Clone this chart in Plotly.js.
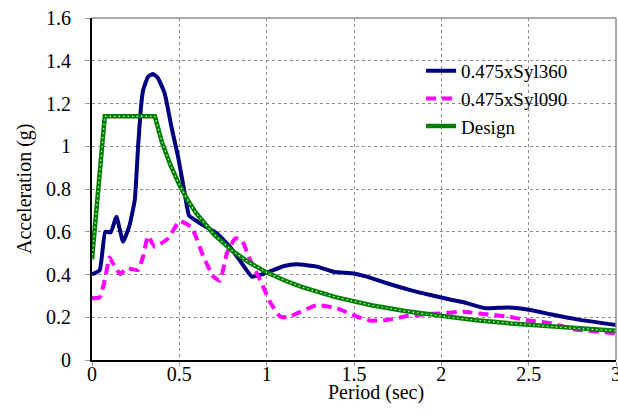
<!DOCTYPE html>
<html>
<head>
<meta charset="utf-8">
<script src="https://cdn.plot.ly/plotly-3.0.1.min.js"></script>
<style>
html,body{margin:0;padding:0;background:#fff}
#chart{width:618px;height:415px}
</style>
</head>
<body>
<div id="chart"></div>
<script>
// Series 1: 0.475xSyl360
const syl360Period = [0, 0.044, 0.076, 0.107, 0.14, 0.178, 0.215, 0.245, 0.264, 0.28, 0.292, 0.321, 0.35, 0.378, 0.416, 0.455, 0.493, 0.531, 0.556, 0.619, 0.714, 0.79, 0.858, 0.915, 0.963, 1.02, 1.1, 1.173, 1.288, 1.383, 1.497, 1.574, 1.689, 1.822, 1.937, 2.05, 2.128, 2.252, 2.377, 2.51, 2.625, 2.777, 3.0];
const syl360Accel  = [0.40, 0.42, 0.60, 0.597, 0.67, 0.553, 0.63, 0.75, 1.0, 1.18, 1.26, 1.325, 1.338, 1.318, 1.248, 1.09, 0.95, 0.78, 0.675, 0.64, 0.593, 0.53, 0.452, 0.39, 0.398, 0.415, 0.44, 0.448, 0.437, 0.413, 0.405, 0.39, 0.359, 0.327, 0.304, 0.283, 0.27, 0.242, 0.246, 0.234, 0.214, 0.19, 0.164];

// Series 2: 0.475xSyl090
const syl090Period = [0, 0.044, 0.073, 0.101, 0.13, 0.162, 0.197, 0.264, 0.292, 0.321, 0.359, 0.436, 0.502, 0.571, 0.638, 0.695, 0.733, 0.772, 0.82, 0.858, 0.905, 0.963, 1.02, 1.077, 1.125, 1.173, 1.288, 1.402, 1.517, 1.593, 1.689, 1.803, 1.918, 1.994, 2.128, 2.242, 2.377, 2.51, 2.625, 2.758, 3.0];
const syl090Accel  = [0.289, 0.293, 0.374, 0.48, 0.437, 0.402, 0.429, 0.421, 0.483, 0.58, 0.53, 0.569, 0.65, 0.62, 0.483, 0.39, 0.371, 0.499, 0.569, 0.561, 0.468, 0.374, 0.27, 0.203, 0.2, 0.218, 0.257, 0.242, 0.203, 0.184, 0.187, 0.206, 0.215, 0.218, 0.226, 0.215, 0.203, 0.184, 0.172, 0.144, 0.125];

// Series 3: Design spectrum
const designPeriod = [0, 0.073, 0.36, 0.4, 0.45, 0.5, 0.55, 0.6, 0.7, 0.8, 0.9, 1.0, 1.1, 1.2, 1.4, 1.6, 1.8, 2.0, 2.2, 2.4, 2.6, 2.8, 3.0];
const designAccel  = [0.47, 1.14, 1.14, 1.02, 0.91, 0.82, 0.745, 0.683, 0.586, 0.513, 0.456, 0.41, 0.373, 0.342, 0.293, 0.256, 0.228, 0.205, 0.186, 0.171, 0.158, 0.146, 0.137];

const seriesNames = ["0.475xSyl360", "0.475xSyl090", "Design"];
const xTickVals = [0, 0.5, 1, 1.5, 2, 2.5, 3];
const xTickText = ["0", "0.5", "1", "1.5", "2", "2.5", "3"];
const yTickVals = [0, 0.2, 0.4, 0.6, 0.8, 1.0, 1.2, 1.4, 1.6];
const yTickText = ["0", "0.2", "0.4", "0.6", "0.8", "1", "1.2", "1.4", "1.6"];

const SERIF = "Times New Roman";

const traces = [
  {x: syl360Period, y: syl360Accel, name: seriesNames[0], mode: "lines",
   line: {color: "#000080", width: 4, shape: "spline", smoothing: 0.4}},
  {x: syl090Period, y: syl090Accel, name: seriesNames[1], mode: "lines",
   line: {color: "#FF00FF", width: 4, dash: "10px,6px", shape: "spline", smoothing: 0.4}},
  {x: designPeriod, y: designAccel, name: seriesNames[2], mode: "lines",
   line: {color: "#008000", width: 4.5}},
  {x: designPeriod, y: designAccel, name: seriesNames[2], mode: "lines", showlegend: false,
   hoverinfo: "skip", line: {color: "#d8efd8", width: 1.2, dash: "1.5px,3px"}}
];

const layout = {
  width: 618, height: 415,
  margin: {l: 92, r: 2, t: 18, b: 55},
  paper_bgcolor: "#fff", plot_bgcolor: "#fff",
  font: {family: SERIF, size: 20, color: "#000"},
  showlegend: true,
  legend: {x: 0.628, xanchor: "left", y: 0.901, yanchor: "top", bgcolor: "rgba(0,0,0,0)",
           borderwidth: 0, tracegroupgap: 0, font: {family: SERIF, size: 19, color: "#000"}},
  xaxis: {range: [0, 3], tickvals: xTickVals, ticktext: xTickText, showgrid: true,
          gridcolor: "#8c8c8c", griddash: "dot", gridwidth: 1, zeroline: false,
          showline: true, linecolor: "#000", linewidth: 2,
          ticks: "outside", ticklen: 4, tickcolor: "#9a9a9a", tickwidth: 1,
          ticklabelstandoff: -9, ticklabeloverflow: "allow",
          tickfont: {family: SERIF, size: 20, color: "#000"}},
  yaxis: {range: [0, 1.6], tickvals: yTickVals, ticktext: yTickText, showgrid: true,
          gridcolor: "#8c8c8c", griddash: "dot", gridwidth: 1, zeroline: false,
          showline: true, linecolor: "#000", linewidth: 2,
          ticks: "outside", ticklen: 5, tickcolor: "#9a9a9a", tickwidth: 1,
          ticklabelstandoff: 10, ticklabeloverflow: "allow",
          tickfont: {family: SERIF, size: 20, color: "#000"}},
  shapes: [
    {type: "line", xref: "paper", yref: "paper", x0: 0, x1: 1, y0: 1, y1: 1, line: {color: "#8c8c8c", width: 1.5}},
    {type: "line", xref: "paper", yref: "paper", x0: 1, x1: 1, y0: 0, y1: 1, line: {color: "#8c8c8c", width: 1.5}}
  ],
  annotations: [
    {text: "Period (sec)", xref: "paper", yref: "paper", x: 0.542, y: -0.096, xanchor: "center", yanchor: "middle",
     showarrow: false, font: {family: SERIF, size: 20, color: "#000"}},
    {text: "Acceleration (g)", xref: "paper", yref: "paper", x: -0.1298, y: 0.5, xanchor: "center", yanchor: "middle",
     textangle: -90, showarrow: false, font: {family: SERIF, size: 20, color: "#000"}}
  ]
};

Plotly.newPlot("chart", traces, layout, {displayModeBar: false, staticPlot: true});
</script>
</body>
</html>
